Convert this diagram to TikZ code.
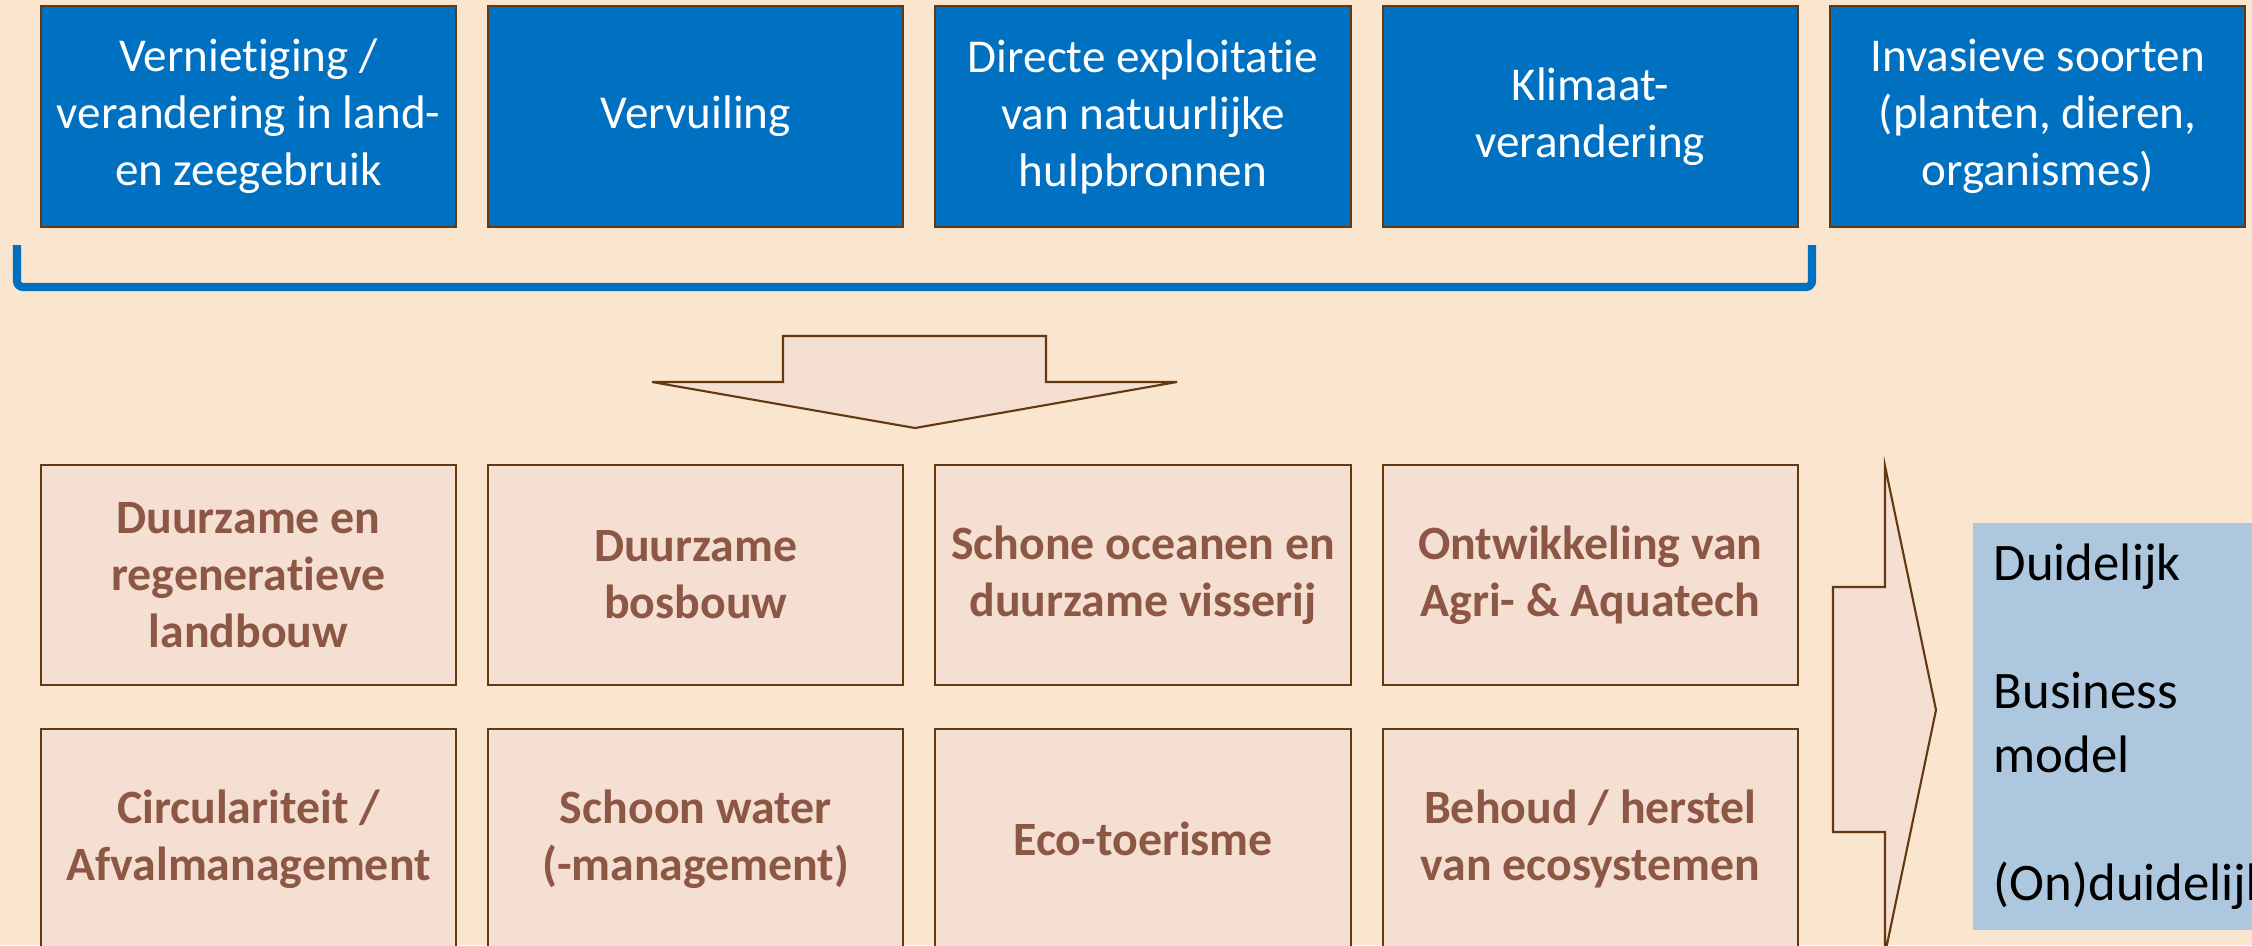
\documentclass[tikz,border=0pt]{standalone}
\usepackage{fontspec}
\setmainfont{Carlito}[Ligatures=NoCommon]
\usetikzlibrary{positioning}
\definecolor{bgcream}{HTML}{FAE5CE}
\definecolor{threatblue}{HTML}{0070C0}
\definecolor{boxbrown}{HTML}{633911}
\definecolor{themepink}{HTML}{F5DED2}
\definecolor{themetext}{HTML}{8C5744}
\definecolor{modelblue}{HTML}{ADC8DE}

\begin{document}
\begin{tikzpicture}[x=0.01cm,y=-0.01cm,
    threat/.style={draw=boxbrown,line width=0.6pt,fill=threatblue,text=white,
      minimum width=4.15cm,minimum height=2.21cm,inner sep=0pt,outer sep=0pt,align=center,
      font=\fontsize{13.4}{16.2}\selectfont},
    theme/.style={draw=boxbrown,line width=0.6pt,fill=themepink,text=themetext,
      minimum width=4.15cm,minimum height=2.2cm,inner sep=0pt,outer sep=0pt,align=center,
      font=\bfseries\fontsize{13.6}{16.2}\selectfont},
    bigarrow/.style={draw=boxbrown,line width=0.6pt,fill=themepink},
    modelbox/.style={fill=modelblue,text=black,text width=4.5cm,inner xsep=0.21cm,
      minimum height=4.07cm,align=left,font=\fontsize{15}{18.2}\selectfont}]
  \useasboundingbox (0,0) rectangle (2252,945);
  \clip (0,0) rectangle (2252,945);
  \fill [bgcream] (0,0) rectangle (2252,945);

  % drivers
  \node [threat] (t1) at (248.5,116.5) {Vernietiging /\\verandering in land-\\en zeegebruik};
  \node [threat, right=0.32cm of t1] (t2) {Vervuiling};
  \node [threat, right=0.32cm of t2] (t3) {Directe exploitatie\\van natuurlijke\\hulpbronnen};
  \node [threat, right=0.32cm of t3] (t4) {Klimaat-\\verandering};
  \node [threat, right=0.32cm of t4] (t5) {Invasieve soorten\\(planten, dieren,\\organismes)};

  \draw [threatblue, line width=2.3pt, rounded corners=0.06cm] (17,245) -- (17,287) -- (1812,287) -- (1812,245);

  \draw [bigarrow] (783,336) -- (1046,336) -- (1046,382) -- (1177,382) -- (915,428) -- (652,382) -- (783,382) -- cycle;

  % themes
  \node [theme] (b1) at (248.5,575) {Duurzame en\\regeneratieve\\landbouw};
  \node [theme, right=0.32cm of b1] (b2) {Duurzame\\bosbouw};
  \node [theme, right=0.32cm of b2] (b3) {Schone oceanen en\\duurzame visserij};
  \node [theme, right=0.32cm of b3] (b4) {Ontwikkeling van\\Agri- \& Aquatech};
  \node [theme, below=0.44cm of b1] (c1) {Circulariteit /\\Afvalmanagement};
  \node [theme, right=0.32cm of c1] (c2) {Schoon water\\(-management)};
  \node [theme, right=0.32cm of c2] (c3) {Eco-toerisme};
  \node [theme, right=0.32cm of c3] (c4) {Behoud / herstel\\van ecosystemen};

  \draw [bigarrow] (1833,587) -- (1885,587) -- (1885,466) -- (1936,710) -- (1885,954) -- (1885,832) -- (1833,832) -- cycle;

  \node [modelbox, anchor=north west] (model) at (1972,522) {Duidelijk\\~\\Business\\model\\~\\(On)duidelijk};
\end{tikzpicture}
\end{document}
